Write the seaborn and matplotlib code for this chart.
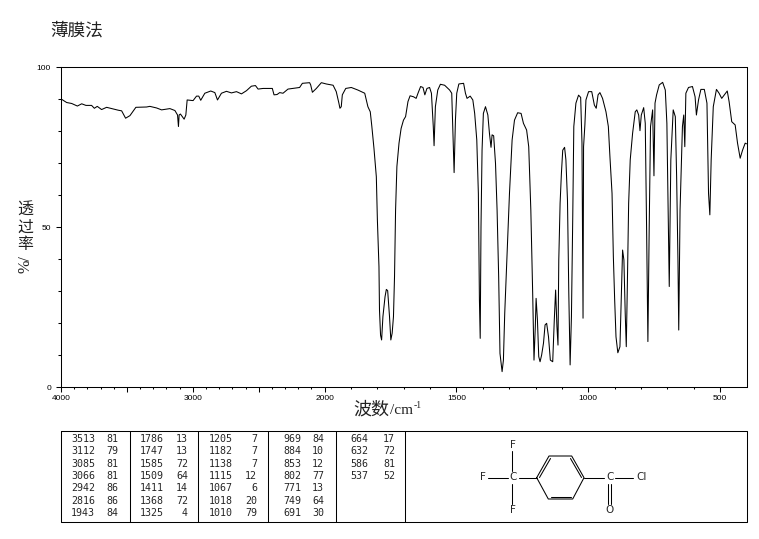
import numpy as np
import pandas as pd
import matplotlib
matplotlib.use('Agg')
import matplotlib.pyplot as plt
import seaborn as sns

# spectrum
wavenumber = [
    3995, 3957, 3919, 3876, 3843, 3811, 3768, 3747, 3725, 3692, 3654, 3616, 3566, 3540, 3510, 3477,
    3432, 3351, 3326, 3275, 3237, 3174, 3136, 3116, 3109, 3104, 3094, 3066, 3053, 3043, 2998, 2972,
    2955, 2940, 2909, 2864, 2833, 2813, 2783, 2745, 2707, 2669, 2631, 2593, 2556, 2525, 2505, 2467,
    2397, 2384, 2361, 2341, 2316, 2278, 2190, 2169, 2114, 2106, 2093, 2063, 2025,
    1994, 1968, 1956, 1946, 1942, 1937, 1933, 1920, 1899, 1874, 1848, 1836, 1827, 1821, 1813, 1804,
    1800, 1794, 1792, 1788, 1784, 1779, 1771, 1766, 1761, 1754, 1749, 1744, 1739, 1735, 1731, 1726,
    1718, 1710, 1701, 1693, 1684, 1676, 1663, 1653, 1646, 1636, 1627, 1620, 1612, 1602, 1595, 1588,
    1585, 1580, 1571, 1561, 1545, 1526, 1518, 1513, 1509, 1504, 1499, 1491, 1473, 1466, 1460, 1448,
    1438, 1431, 1423, 1417, 1413, 1410, 1407, 1403, 1398, 1390, 1381, 1375, 1369, 1365, 1359, 1352,
    1346, 1340, 1335, 1327, 1322, 1317, 1308, 1299, 1289, 1280, 1268, 1255, 1246, 1234, 1226, 1218,
    1211, 1206, 1201, 1198, 1193, 1188, 1183, 1177, 1170, 1164, 1158, 1151, 1144, 1135, 1129, 1124,
    1119, 1115, 1112, 1107, 1102, 1097, 1090, 1085, 1079, 1074, 1069, 1064, 1059, 1055, 1047, 1037,
    1029, 1024, 1020, 1018, 1013, 1009, 999, 987, 977, 970, 963, 956, 946, 933, 924, 918,
    910, 905, 900, 895, 888, 880, 875, 870, 865, 860, 856, 852, 847, 841, 832, 822,
    816, 809, 804, 799, 790, 784, 779, 774, 769, 764, 756, 751, 747, 741, 731, 718,
    708, 702, 693, 687, 678, 670, 665, 660, 657, 652, 643, 638, 634, 630, 620, 605,
    595, 590, 582, 573, 560, 550, 544, 539, 534, 526, 514, 504, 494, 484, 473, 466,
    456, 443, 434, 424, 415, 405, 400,
]
transmittance = [
    89.9, 88.9, 88.6, 87.8, 88.5, 88.0, 88.0, 87.1, 87.7, 86.7, 87.4, 87.0, 86.5, 86.3, 84.0, 84.8,
    87.4, 87.5, 87.7, 87.2, 86.6, 87.0, 86.4, 85.0, 81.4, 85.0, 85.3, 83.7, 85.0, 89.7, 89.5, 90.9,
    90.9, 89.6, 91.8, 92.5, 92.0, 89.7, 91.8, 92.4, 91.9, 92.3, 91.6, 92.6, 94.0, 94.2, 93.1, 93.3,
    93.3, 91.3, 91.4, 92.0, 91.8, 93.1, 93.6, 94.9, 95.1, 94.4, 92.1, 93.3, 95.1,
    94.7, 94.3, 92.3, 88.7, 87.1, 87.6, 91.3, 93.3, 93.6, 92.8, 91.8, 87.6, 86.0, 81.4, 74.6, 65.7,
    52.2, 37.6, 24.0, 16.2, 14.7, 22.0, 28.2, 30.5, 30.1, 22.0, 14.7, 16.8, 22.0, 34.5, 55.3, 68.9,
    76.2, 80.8, 83.4, 84.5, 89.2, 91.0, 90.7, 90.2, 91.8, 93.9, 93.6, 91.3, 93.3, 93.6, 91.8, 81.4,
    75.4, 87.6, 92.8, 94.6, 94.3, 92.8, 91.8, 78.2, 67.0, 83.4, 91.8, 94.7, 94.9, 91.8, 90.2, 90.9,
    89.7, 85.5, 77.2, 60.5, 27.2, 15.2, 50.0, 74.0, 85.5, 87.6, 85.0, 79.3, 74.9, 78.8, 78.5, 69.9,
    55.3, 34.5, 10.5, 4.8, 8.4, 23.0, 41.8, 60.5, 77.2, 83.4, 85.7, 85.5, 82.4, 80.3, 75.1, 55.3,
    29.3, 8.4, 18.9, 27.7, 21.0, 9.5, 7.9, 10.0, 13.7, 19.4, 19.9, 15.7, 8.4, 7.9, 21.0, 30.3,
    18.9, 13.1, 39.7, 57.4, 66.8, 74.0, 74.9, 71.0, 58.4, 29.3, 6.9, 22.0, 53.2, 81.4, 88.7, 91.2,
    90.5, 76.2, 21.5, 75.1, 81.9, 89.7, 92.3, 92.3, 88.1, 87.1, 91.3, 92.0, 90.2, 86.0, 81.4, 72.0,
    60.5, 40.7, 27.2, 15.7, 10.7, 12.6, 27.2, 42.8, 39.7, 23.0, 12.6, 31.4, 57.4, 71.0, 79.3, 86.0,
    86.6, 85.0, 80.1, 85.0, 87.3, 82.4, 50.1, 14.2, 50.1, 81.4, 86.6, 66.0, 88.7, 91.3, 94.4, 95.2,
    92.8, 82.4, 31.4, 71.0, 86.6, 84.5, 65.7, 39.7, 17.8, 55.3, 81.4, 85.0, 75.1, 91.8, 93.6, 93.9,
    90.7, 85.0, 89.7, 93.0, 93.0, 88.7, 60.5, 53.8, 71.0, 87.6, 93.0, 91.8, 90.2, 91.3, 92.5, 89.2,
    82.9, 81.9, 76.2, 71.5, 74.0, 76.2, 76.0,
]

# peak table, one list per column block
peak_waves = [
    [3513, 3112, 3085, 3066, 2942, 2816, 1943],
    [1786, 1747, 1585, 1509, 1411, 1368, 1325],
    [1205, 1182, 1138, 1115, 1067, 1018, 1010],
    [969, 884, 853, 802, 771, 749, 691],
    [664, 632, 586, 537],
]
peak_trans = [
    [81, 79, 81, 81, 86, 86, 84],
    [13, 13, 72, 64, 14, 72, 4],
    [7, 7, 7, 12, 6, 20, 79],
    [84, 10, 12, 77, 13, 64, 30],
    [17, 72, 81, 52],
]
labeled_x = [4000, 3000, 2000, 1500, 1000, 500]
long_x = [4000, 3500, 3000, 2500, 2000, 1500, 1000, 500]
short_x = [v for v in range(3900, 2000, -100) if v % 500] + [v for v in range(1900, 400, -100) if v % 500]
major_y = [0, 50, 100]

W, H = 759, 539

sns.set_style('white')
plt.rcParams['font.family'] = ['Noto Sans CJK SC', 'DejaVu Sans']

fig = plt.figure(figsize=(W / 100, H / 100), dpi=100)


def px_axes(left, top, right, bottom):
    return fig.add_axes([left / W, 1 - bottom / H, (right - left) / W, (bottom - top) / H])


# IR charts double the wavenumber scale below 2000
def fwd(v):
    v = np.asarray(v, dtype=float)
    return np.where(v <= 2000, v, 2000 + (v - 2000) / 2)


def inv(v):
    v = np.asarray(v, dtype=float)
    return np.where(v <= 2000, v, 2000 + (v - 2000) * 2)


ax = px_axes(61, 67, 746.5, 387)
df = pd.DataFrame({'wavenumber': wavenumber, 'transmittance': transmittance})
sns.lineplot(data=df, x='wavenumber', y='transmittance', ax=ax, sort=False,
             estimator=None, color='black', linewidth=0.75)
ax.set_xscale('function', functions=(fwd, inv))
ax.set_xlim(4000, 400)
ax.set_ylim(0, 100)

ax.set_xticks(long_x)
ax.set_xticks(short_x, minor=True)
ax.set_yticks(major_y)
ax.set_yticks(list(range(10, 100, 10)), minor=True)
ax.set_xticklabels([str(v) if v in labeled_x else '' for v in long_x])
ax.set_yticklabels([str(v) for v in major_y])
ax.tick_params(which='major', axis='x', bottom=True, length=3.6, width=0.75, labelsize=6, pad=2,
               color='black', labelcolor='black')
ax.tick_params(which='major', axis='y', left=True, length=3.6, width=0.75, labelsize=6, pad=3.6,
               color='black', labelcolor='black')
ax.tick_params(which='minor', axis='x', bottom=True, length=1.5, width=0.75, color='black')
ax.tick_params(which='minor', axis='y', left=True, length=2, width=0.75, color='black')
for lab in ax.get_xticklabels() + ax.get_yticklabels():
    lab.set_family(['Liberation Sans'])
ax.set_xlabel('')
ax.set_ylabel('')
for s in ax.spines.values():
    s.set_visible(True)
    s.set_color('black')
    s.set_linewidth(0.75)

# pixel overlay for text, peak table and structure
ov = fig.add_axes([0, 0, 1, 1])
ov.set_xlim(0, W)
ov.set_ylim(H, 0)
ov.axis('off')
ov.patch.set_alpha(0)

ov.text(50.5, 30.5, '薄膜法', fontsize=12.7, va='center', ha='left', color='#222222')
ov.text(353, 410, '波数', fontsize=13, va='center', ha='left', color='#222222')
ov.text(389.5, 410.5, '/cm', fontsize=11, family=['Liberation Serif'], va='center', ha='left', color='#222222')
ov.text(414, 405, '-1', fontsize=7, family=['Liberation Serif'], va='center', ha='left', color='#222222')
for ch, y in zip('透过率', [210, 227.5, 245]):
    ov.text(25, y, ch, fontsize=11.5, va='center', ha='center', color='#222222')
ov.text(25, 264, '%/', fontsize=11.7, family=['Liberation Serif'], va='center', ha='center', rotation=90,
        color='#222222')

# table frame
ov.plot([61, 747, 747, 61, 61], [430.5, 430.5, 522, 522, 430.5], color='black', lw=0.75)
for x in [130, 198, 268, 336, 405]:
    ov.plot([x, x], [430.5, 522], color='black', lw=0.75)

row_y = [439, 451, 464, 476, 488, 501, 513]
wave_left = [71, 140, 209, 283, 350]
trans_right = [118, 188, 257, 324, 395]
for waves, trans, xl, xr in zip(peak_waves, peak_trans, wave_left, trans_right):
    for w, t, y in zip(waves, trans, row_y):
        ov.text(xl, y, str(w), fontsize=7.2, family=['DejaVu Sans Mono'], va='center', ha='left')
        ov.text(xr, y, str(t), fontsize=7.2, family=['DejaVu Sans Mono'], va='center', ha='right')

# 4-(trifluoromethyl)benzoyl chloride
ring_x = [536.7, 549, 571.7, 584, 572.7, 548.3, 536.7]
ring_y = [477.7, 456, 456, 477.7, 499, 499, 477.7]
ov.plot(ring_x, ring_y, color='black', lw=0.75)
ov.plot([539.5, 550.5], [477.5, 458.5], color='black', lw=0.75)
ov.plot([570.5, 581.5], [458.5, 477.5], color='black', lw=0.75)
ov.plot([551, 570.5], [496.5, 496.5], color='black', lw=0.75)
bonds = [
    ([511.7, 511.7], [451, 471]), ([511.7, 511.7], [484, 504]),
    ([488, 508], [477.5, 477.5]), ([519, 536.7], [477.5, 477.5]),
    ([584, 604], [477.5, 477.5]), ([615, 633], [477.5, 477.5]),
    ([607.5, 607.5], [484, 504]), ([610.5, 610.5], [484, 504]),
]
for bx, by in bonds:
    ov.plot(bx, by, color='black', lw=0.75)
for label, x, y in [('F', 512.5, 444.5), ('F', 482.5, 477.5), ('C', 513.5, 477.5), ('F', 512.5, 510),
                    ('C', 610, 477.5), ('Cl', 642, 477.5), ('O', 610, 510)]:
    ov.text(x, y, label, fontsize=7.5, family=['DejaVu Sans'], va='center', ha='center')

fig.savefig('out.png', dpi=100)
